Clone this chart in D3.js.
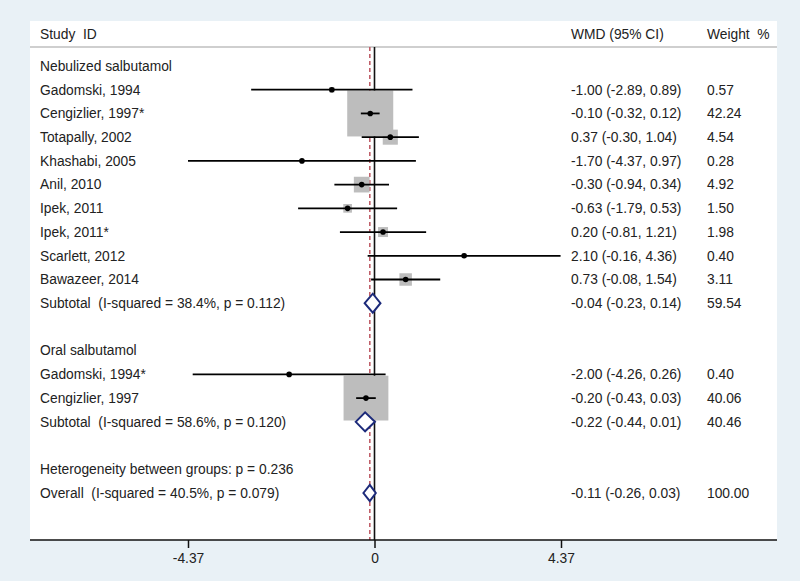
<!DOCTYPE html>
<html><head><meta charset="utf-8">
<script src="https://cdn.jsdelivr.net/npm/d3@7"></script>
<style>
body{margin:0;background:#e9f1f6;}
svg{display:block;font-family:"Liberation Sans",Arial,Helvetica,sans-serif;}
text{white-space:pre;}
</style></head><body>
<svg id="c" width="800" height="581"></svg>
<script>
// ---- data ----
const labels = ["Nebulized salbutamol","Gadomski, 1994","Cengizlier, 1997*","Totapally, 2002","Khashabi, 2005","Anil, 2010","Ipek, 2011","Ipek, 2011*","Scarlett, 2012","Bawazeer, 2014","Subtotal  (I-squared = 38.4%, p = 0.112)","","Oral salbutamol","Gadomski, 1994*","Cengizlier, 1997","Subtotal  (I-squared = 58.6%, p = 0.120)","","Heterogeneity between groups: p = 0.236","Overall  (I-squared = 40.5%, p = 0.079)"];
const rowType = ["group","study","study","study","study","study","study","study","study","study","sub","blank","group","study","study","sub","blank","note","sub"];
const wmd   = [null,-1.00,-0.10,0.37,-1.70,-0.30,-0.63,0.20,2.10,0.73,-0.04,null,null,-2.00,-0.20,-0.22,null,null,-0.11];
const lower = [null,-2.89,-0.32,-0.30,-4.37,-0.94,-1.79,-0.81,-0.16,-0.08,-0.23,null,null,-4.26,-0.43,-0.44,null,null,-0.26];
const upper = [null,0.89,0.12,1.04,0.97,0.34,0.53,1.21,4.36,1.54,0.14,null,null,0.26,0.03,0.01,null,null,0.03];
const weight= [null,0.57,42.24,4.54,0.28,4.92,1.50,1.98,0.40,3.11,59.54,null,null,0.40,40.06,40.46,null,null,100.00];
const tickValues = [-4.37,0,4.37];
const overallEffect = -0.11;

const FS = 13.8;
const svg = d3.select("#c");
const panel = {x0:30,x1:777,y0:21,y1:540};
svg.append("rect").attr("x",panel.x0).attr("y",panel.y0).attr("width",panel.x1-panel.x0).attr("height",panel.y1-panel.y0).attr("fill","#fff");

const x = d3.scaleLinear().domain([-4.37,4.37]).range([188,561]);
const y = d3.scaleLinear().domain([0,18]).range([66,493]);
const boxK = 7.08;
const txt = "#222";
const f2 = v => v.toFixed(2);

// header
const hy = 34;
svg.append("text").attr("x",40).attr("y",hy).attr("dy","0.35em").attr("font-size",FS).attr("fill",txt).text("Study  ID");
svg.append("text").attr("x",571).attr("y",hy).attr("dy","0.35em").attr("font-size",FS).attr("fill",txt).text("WMD (95% CI)");
svg.append("text").attr("x",707).attr("y",hy).attr("dy","0.35em").attr("font-size",FS).attr("fill",txt).text("Weight  %");
svg.append("line").attr("x1",panel.x0).attr("x2",panel.x1).attr("y1",47).attr("y2",47).attr("stroke","#a0a0a0").attr("stroke-width",1.2);

// reference lines
svg.append("line").attr("x1",x(0)).attr("x2",x(0)).attr("y1",47).attr("y2",panel.y1).attr("stroke","#111").attr("stroke-width",1.6);
svg.append("line").attr("x1",x(overallEffect)).attr("x2",x(overallEffect)).attr("y1",47).attr("y2",panel.y1)
  .attr("stroke","#c0606a").attr("stroke-width",1.6).attr("stroke-dasharray","4,3");

const idx = d3.range(labels.length);
const studies = idx.filter(i=>rowType[i]==="study");
const subs = idx.filter(i=>rowType[i]==="sub");

// boxes
svg.append("g").selectAll("rect").data(studies).join("rect")
  .attr("x",i=>x(wmd[i])-boxK*Math.sqrt(weight[i])/2)
  .attr("y",i=>y(i)-boxK*Math.sqrt(weight[i])/2)
  .attr("width",i=>boxK*Math.sqrt(weight[i]))
  .attr("height",i=>boxK*Math.sqrt(weight[i]))
  .attr("fill","#bdbdbd");
// CI lines
svg.append("g").selectAll("line").data(studies).join("line")
  .attr("x1",i=>x(lower[i])).attr("x2",i=>x(upper[i]))
  .attr("y1",i=>y(i)).attr("y2",i=>y(i))
  .attr("stroke","#000").attr("stroke-width",1.8);
// points
svg.append("g").selectAll("circle").data(studies).join("circle")
  .attr("cx",i=>x(wmd[i])).attr("cy",i=>y(i)).attr("r",2.8).attr("fill","#000");
// diamonds
svg.append("g").selectAll("path").data(subs).join("path")
  .attr("d",i=>{const h=i===18?8:9.5;return `M${x(lower[i])},${y(i)}L${x(wmd[i])},${y(i)-h}L${x(upper[i])},${y(i)}L${x(wmd[i])},${y(i)+h}Z`;})
  .attr("fill","#fff").attr("stroke","#1c2a7a").attr("stroke-width",2);

// labels
svg.append("g").selectAll("text").data(idx.filter(i=>labels[i])).join("text")
  .attr("x",40).attr("y",i=>y(i)).attr("dy","0.35em").attr("font-size",FS).attr("fill",txt).text(i=>labels[i]);
const withVals = idx.filter(i=>wmd[i]!==null);
svg.append("g").selectAll("text").data(withVals).join("text")
  .attr("x",571).attr("y",i=>y(i)).attr("dy","0.35em").attr("font-size",FS).attr("fill",txt)
  .text(i=>`${f2(wmd[i])} (${f2(lower[i])}, ${f2(upper[i])})`);
svg.append("g").selectAll("text").data(withVals).join("text")
  .attr("x",707).attr("y",i=>y(i)).attr("dy","0.35em").attr("font-size",FS).attr("fill",txt)
  .text(i=>f2(weight[i]));

// axis
svg.append("line").attr("x1",panel.x0).attr("x2",panel.x1).attr("y1",panel.y1).attr("y2",panel.y1).attr("stroke","#111").attr("stroke-width",1.6);
const ax = d3.axisBottom(x).tickValues(tickValues).tickSize(8).tickPadding(5).tickFormat(d=>d===0?"0":f2(d));
const g = svg.append("g").attr("transform",`translate(0,${panel.y1})`).call(ax);
g.select(".domain").remove();
g.selectAll(".tick line").attr("stroke","#111").attr("stroke-width",1.5);
g.selectAll(".tick text").attr("font-size",FS).attr("fill",txt).attr("font-family","Liberation Sans, Arial, sans-serif");
</script></body></html>
